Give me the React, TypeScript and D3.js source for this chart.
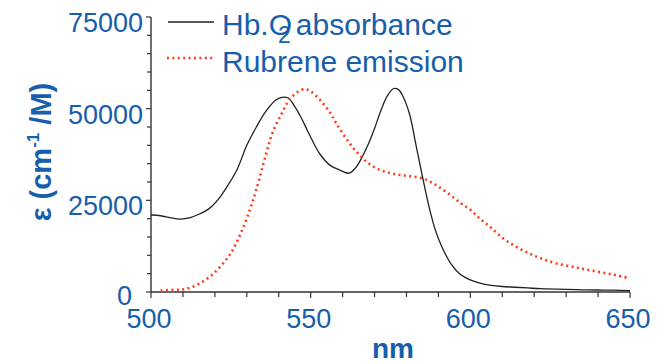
import React from "react";
import * as d3 from "d3";

const hbWavelengths = [500, 503, 506, 509, 512, 515, 518, 521, 524, 527, 530, 533, 536, 539, 541, 543, 545, 547, 549, 551, 553, 556, 559, 562, 564, 566, 568, 570, 572, 574, 576, 577.5, 579, 581, 583, 585, 587, 589, 591, 594, 597, 600, 603, 606, 610, 614, 618, 622, 626, 630, 635, 640, 645, 650];
const hbAbsorbance = [21000, 20800, 20300, 19900, 20200, 21200, 22600, 25200, 29000, 33500, 40000, 45000, 49300, 52300, 53100, 52900, 50600, 47600, 44000, 40500, 37500, 34600, 33300, 32400, 33800, 36600, 40200, 44600, 49500, 53500, 55500, 55200, 53200, 48400, 40000, 31500, 23500, 17000, 12500, 7600, 4700, 3300, 2400, 1900, 1500, 1300, 1100, 900, 800, 700, 600, 550, 500, 400];

const rubWavelengths = [503, 507, 510, 513, 516, 519, 522, 525, 528, 531, 533, 536, 538, 541, 543.5, 546, 548, 550, 553, 556, 558, 562, 566, 570, 575, 580, 585, 589, 593, 597, 600, 603, 606, 610, 614, 618, 622, 627, 633, 637, 642, 646, 650];
const rubEmission = [400, 600, 700, 1400, 2700, 4600, 7200, 10600, 15800, 22500, 28000, 37500, 43300, 48800, 52600, 54600, 55300, 54700, 52300, 49000, 46000, 40800, 36700, 34000, 32400, 31700, 31000, 29300, 26900, 24200, 22400, 20000, 17900, 14800, 12500, 10700, 9200, 7800, 6700, 6000, 5200, 4500, 3700];

const xMajorTicks = [500, 550, 600, 650];
const yMajorTicks = [0, 25000, 50000, 75000];
const legendLabels = ["Hb.O", "2", "absorbance", "Rubrene emission"];

const BLUE = "#175eab";
const AXIS = "#333";
const FONT = "Liberation Sans, Arial, sans-serif";

export default function App() {
  const x = d3.scaleLinear().domain([500, 650]).range([151, 630]);
  const y = d3.scaleLinear().domain([0, 75000]).range([292, 17]);

  const hbData = hbWavelengths.map((w, i) => [w, hbAbsorbance[i]] as [number, number]);
  const rubData = rubWavelengths.map((w, i) => [w, rubEmission[i]] as [number, number]);

  const line = d3
    .line<[number, number]>()
    .x((d) => x(d[0]))
    .y((d) => y(d[1]))
    .curve(d3.curveCatmullRom.alpha(0.5));

  const xMinor = d3.range(500, 651, 10);
  const yMinor = d3.range(0, 75001, 5000);

  return (
    <svg width={658} height={364} style={{ position: "absolute", left: 0, top: 0, background: "#fff" }}>
      {/* axes */}
      <line x1={x(500)} x2={x(500)} y1={y(75000)} y2={y(0)} stroke={AXIS} strokeWidth={1.4} />
      <line x1={x(500)} x2={x(650)} y1={y(0)} y2={y(0)} stroke={AXIS} strokeWidth={1.4} />
      {yMinor.map((v) => {
        const major = yMajorTicks.includes(v);
        return (
          <line key={"yt" + v} x1={x(500) - (major ? 5 : 4)} x2={x(500)} y1={y(v)} y2={y(v)} stroke={AXIS} strokeWidth={1.2} />
        );
      })}
      {xMinor.map((v) => {
        const major = xMajorTicks.includes(v);
        return (
          <line key={"xt" + v} x1={x(v)} x2={x(v)} y1={y(0)} y2={y(0) + (major ? 6 : 5)} stroke={AXIS} strokeWidth={1.2} />
        );
      })}
      {yMajorTicks.map((v) => (
        <text
          key={"yl" + v}
          x={x(500) - (v === 0 ? 19 : 8)}
          y={y(v) + (v === 0 ? 13 : 15)}
          textAnchor="end"
          fontFamily={FONT}
          fontSize={27}
          fill={BLUE}
        >
          {d3.format("d")(v)}
        </text>
      ))}
      {xMajorTicks.map((v) => (
        <text
          key={"xl" + v}
          x={x(v) - 2}
          y={328}
          textAnchor="middle"
          fontFamily={FONT}
          fontSize={27}
          fill={BLUE}
        >
          {v}
        </text>
      ))}
      {/* axis titles */}
      <text x={393} y={358} textAnchor="middle" fontFamily={FONT} fontSize={28} fontWeight="bold" fill={BLUE}>
        nm
      </text>
      <text
        transform="translate(51,152) rotate(-90)"
        textAnchor="middle"
        fontFamily={FONT}
        fontSize={29}
        fontWeight="bold"
        fill={BLUE}
      >
        ε (cm<tspan fontSize={17} dy={-12}>-1</tspan>
        <tspan dy={12}> /M)</tspan>
      </text>

      {/* series */}
      <path d={line(hbData) || ""} fill="none" stroke="#222" strokeWidth={1.3} />
      <path
        d={line(rubData) || ""}
        fill="none"
        stroke="#ff3a1a"
        strokeWidth={2.6}
        strokeDasharray="2 3.4"
      />

      {/* legend */}
      <line x1={168} x2={214} y1={22} y2={22} stroke="#222" strokeWidth={1.3} />
      <line x1={167} x2={213} y1={58} y2={58} stroke="#ff3a1a" strokeWidth={2.6} strokeDasharray="2 3.4" />
      <text x={222} y={35} fontFamily={FONT} fontSize={30} fill={BLUE}>
        {legendLabels[0]}
        <tspan dx={-14} dy={8} fontSize={23}>
          {legendLabels[1]}
        </tspan>
        <tspan dx={5} dy={-8}>
          {legendLabels[2]}
        </tspan>
      </text>
      <text x={222} y={72} fontFamily={FONT} fontSize={30} fill={BLUE}>
        {legendLabels[3]}
      </text>
    </svg>
  );
}
